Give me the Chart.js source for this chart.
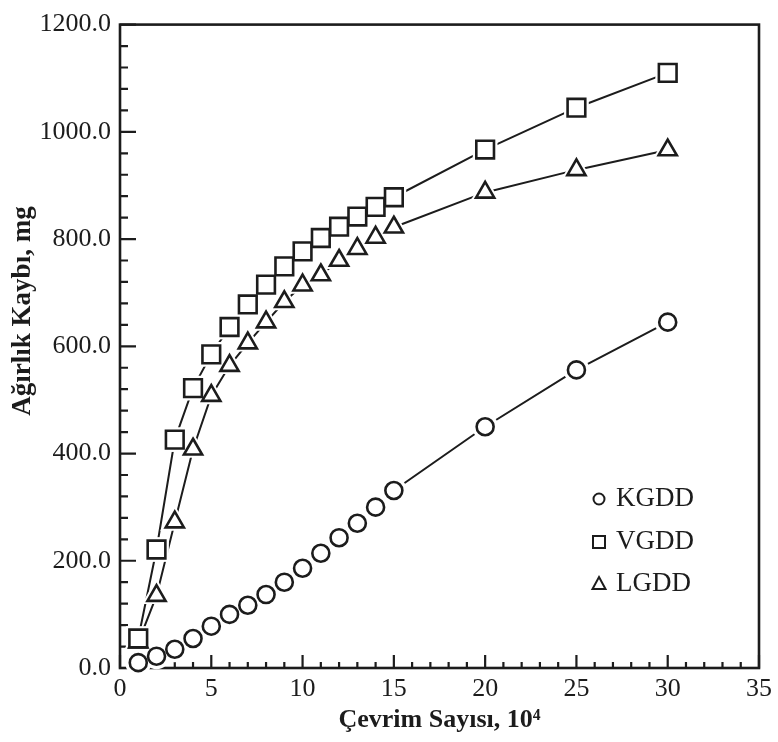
<!DOCTYPE html>
<html><head><meta charset="utf-8">
<script src="https://cdn.jsdelivr.net/npm/chart.js@4/dist/chart.umd.min.js"></script>
<style>html,body{margin:0;padding:0;background:#fff}#wrap{width:778px;height:742px}</style>
</head><body><div id="wrap"><canvas id="c" width="778" height="742"></canvas></div>
<script>
// ---- data ----
const cycles = [1,2,3,4,5,6,7,8,9,10,11,12,13,14,15,20,25,30];
const kgdd = [10,22,35,55,78,100,117,137,160,186,214,243,270,300,331,450,556,645];
const vgdd = [55,221,426,522,585,636,678,715,749,777,802,823,842,860,878,967,1045,1110];
const lgdd = [48,135,272,408,508,564,606,645,683,714,733,760,782,803,822,887,929,966];
const seriesNames = ['KGDD','VGDD','LGDD'];
const xTicks = [0,5,10,15,20,25,30,35];
const yTicks = [0,200,400,600,800,1000,1200];
const xTitle = 'Çevrim Sayısı, 10⁴';
const yTitle = 'Ağırlık Kaybı, mg';

const INK = '#1c1c1c';
const SERIF = '"Liberation Serif", "Times New Roman", serif';
const styles = [
  {shape:'circle', r:8.5, halo:13},
  {shape:'rect', r:12.5, halo:17.5},
  {shape:'triangle', r:10.5, halo:17}
];
const series = [kgdd, vgdd, lgdd];

const datasets = [];
series.forEach((vals, i) => {
  const pts = cycles.map((c, k) => ({x:c, y:vals[k]}));
  const st = styles[i];
  datasets.push({label: seriesNames[i] + ' line', data: pts, showLine: true, borderColor: INK,
    borderWidth: 2, pointRadius: 0, order: 30, clip: false, tension: 0});
  datasets.push({label: seriesNames[i] + ' halo', data: pts, showLine: false, pointStyle: st.shape,
    pointRadius: st.halo, pointBackgroundColor: '#fff', pointBorderColor: '#fff', pointBorderWidth: 0,
    order: 20, clip: false});
  datasets.push({label: seriesNames[i], data: pts, showLine: false, pointStyle: st.shape,
    pointRadius: st.r, pointBackgroundColor: '#fff', pointBorderColor: INK, pointBorderWidth: 2.6,
    order: 10, clip: false});
});

const framePlugin = {
  id: 'frame',
  beforeDatasetsDraw(chart) {
    const {ctx, chartArea: a, scales: {x, y}} = chart;
    ctx.save();
    ctx.strokeStyle = INK;
    ctx.lineWidth = 2.2;
    ctx.beginPath();
    for (let v = 0; v <= 35; v += 1) {
      const px = x.getPixelForValue(v);
      const len = (v % 5 === 0) ? 13 : 6;
      ctx.moveTo(px, a.bottom); ctx.lineTo(px, a.bottom - len);
    }
    for (let v = 0; v <= 1200; v += 40) {
      const py = y.getPixelForValue(v);
      const len = (v % 200 === 0) ? 16 : 8;
      ctx.moveTo(a.left, py); ctx.lineTo(a.left + len, py);
    }
    ctx.stroke();
    ctx.lineWidth = 2.6;
    ctx.strokeRect(a.left, a.top, a.right - a.left, a.bottom - a.top);
    ctx.restore();
  },
  afterDraw(chart) {
    const {ctx} = chart;
    ctx.save();
    ctx.translate(23, 311);
    ctx.rotate(-Math.PI / 2);
    ctx.font = 'bold 27px ' + SERIF;
    ctx.fillStyle = INK;
    ctx.textAlign = 'center';
    ctx.textBaseline = 'middle';
    ctx.fillText(yTitle, 0, 0);
    ctx.restore();
  }
};

const legendPlugin = {
  id: 'sideLegend',
  afterDraw(chart) {
    const {ctx} = chart;
    const rows = [499, 542, 584];
    ctx.save();
    ctx.strokeStyle = INK;
    ctx.fillStyle = INK;
    ctx.lineWidth = 2;
    seriesNames.forEach((name, i) => {
      const cy = rows[i], cx = 599;
      ctx.beginPath();
      if (styles[i].shape === 'circle') {
        ctx.arc(cx, cy, 5.5, 0, Math.PI * 2);
      } else if (styles[i].shape === 'rect') {
        ctx.rect(cx - 6, cy - 6, 12, 12);
      } else {
        ctx.moveTo(cx, cy - 7); ctx.lineTo(cx + 6.5, cy + 5); ctx.lineTo(cx - 6.5, cy + 5); ctx.closePath();
      }
      ctx.stroke();
      ctx.font = '27px ' + SERIF;
      ctx.textBaseline = 'middle';
      ctx.textAlign = 'left';
      ctx.fillText(name, 616, cy);
    });
    ctx.restore();
  }
};

new Chart(document.getElementById('c'), {
  type: 'scatter',
  data: {datasets},
  plugins: [framePlugin, legendPlugin],
  options: {
    responsive: false,
    animation: false,
    devicePixelRatio: 1,
    layout: {padding: {left: 0, top: 10, right: 10, bottom: 0}},
    plugins: {legend: {display: false}, tooltip: {enabled: false}},
    scales: {
      x: {
        type: 'linear', min: 0, max: 35,
        afterFit(s) { s.height = 74; },
        afterBuildTicks(s) { s.ticks = xTicks.map(v => ({value: v})); },
        grid: {display: false, drawTicks: false},
        border: {display: false},
        ticks: {padding: 6, color: INK, font: {family: SERIF, size: 26}, maxRotation: 0,
          autoSkip: false, callback: v => String(v)},
        title: {display: true, text: xTitle, color: INK, padding: {top: 0, bottom: 6},
          font: {family: SERIF, size: 26, weight: 'bold'}}
      },
      y: {
        type: 'linear', min: 0, max: 1200,
        afterFit(s) { s.width = 120; },
        afterBuildTicks(s) { s.ticks = yTicks.map(v => ({value: v})); },
        grid: {display: false, drawTicks: false},
        border: {display: false},
        ticks: {padding: 9, color: INK, font: {family: SERIF, size: 26}, autoSkip: false,
          callback: v => Number(v).toFixed(1)},
        title: {display: false}
      }
    }
  }
});
</script></body></html>
